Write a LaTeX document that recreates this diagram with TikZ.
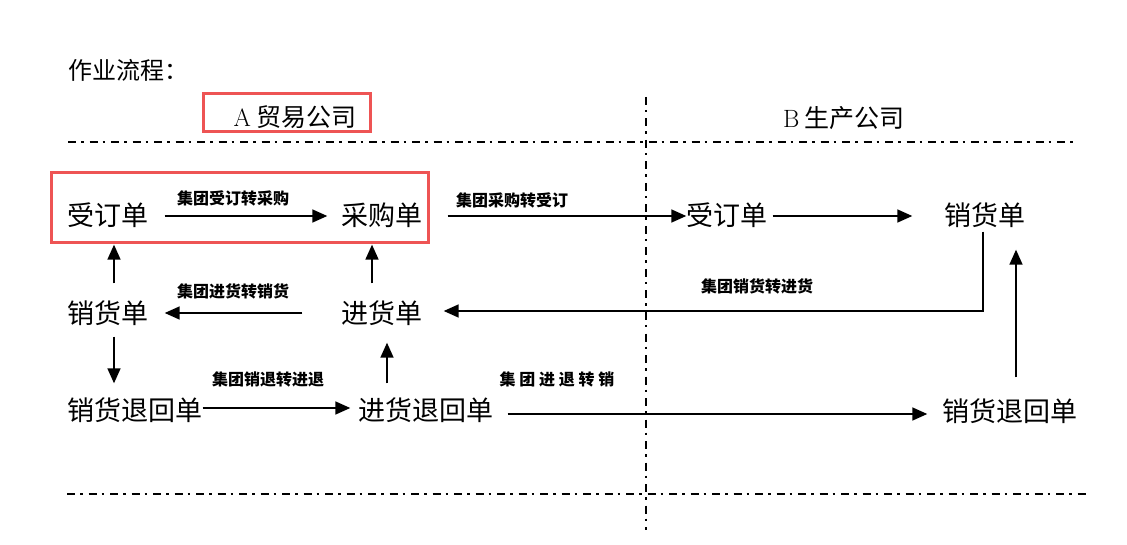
\documentclass[tikz,border=0pt]{standalone}
\usepackage{fontspec}
\newfontfamily\cjk{Noto Sans CJK SC}
\usetikzlibrary{arrows.meta}
\definecolor{redc}{RGB}{238,84,84}
\tikzset{
  main/.style={font=\cjk\fontsize{27}{30}\selectfont, inner sep=0pt},
  head/.style={font=\cjk\fontsize{25}{28}\selectfont, inner sep=0pt},
  lbl/.style={font=\cjk\bfseries\fontsize{16}{18}\selectfont, inner sep=0pt},
  arr/.style={line width=1.6pt, -{Triangle[length=15pt,width=13pt]}},
  dd/.style={line width=1.3pt, dash pattern=on 8pt off 5pt on 2.5pt off 6pt},
  redbox/.style={draw=redc, line width=3pt}
}
\begin{document}
\begin{tikzpicture}[x=1pt,y=-1pt]
\useasboundingbox (0,0) rectangle (1127,545);
% title and headers
\node[head, anchor=west, font=\cjk\fontsize{24}{28}\selectfont] (ttl) at (68,70) {作业流程：};
\draw[redbox] (203,94) rectangle (370,132);
\node[head] (ha) at (295,117) {{\rmfamily A} 贸易公司};
\node[head] (hb) at (844,118) {{\rmfamily B} 生产公司};
% dash-dot lines
\draw[dd] (68,142) -- (1073,142);
\draw[dd] (67,494) -- (1088,494);
\draw[dd] (646,97) -- (646,530);
% red box around first row
\draw[redbox] (51,173) rectangle (428,243);
% nodes
\node[main] (sd)  at (108,215) {受订单};
\node[main] (cg)  at (382,215) {采购单};
\node[main] (xh)  at (108,313) {销货单};
\node[main] (jh)  at (382,313) {进货单};
\node[main] (xt)  at (135,410) {销货退回单};
\node[main] (jt)  at (426,410) {进货退回单};
\node[main] (bsd) at (727,215) {受订单};
\node[main] (bxh) at (985,215) {销货单};
\node[main] (bxt) at (1010,411) {销货退回单};
% labels
\node[lbl] (l1) at (233,198) {集团受订转采购};
\node[lbl] (l2) at (512,200) {集团采购转受订};
\node[lbl] (l3) at (757,286) {集团销货转进货};
\node[lbl] (l4) at (233,291) {集团进货转销货};
\node[lbl] (l5) at (268,379) {集团销退转进退};
\node[lbl] (l6) at (557,379) {集\hspace{3.8pt}团\hspace{3.8pt}进\hspace{3.8pt}退\hspace{3.8pt}转\hspace{3.8pt}销};
% connectors
\draw[arr] ([xshift=16pt,yshift=-1pt]sd.east) -- ([xshift=-14pt,yshift=-1pt]cg.west);
\draw[arr] ([xshift=25pt,yshift=-1pt]cg.east) -- ([yshift=-1pt]bsd.west);
\draw[arr] ([xshift=5pt,yshift=-1pt]bsd.east) -- ([xshift=-32pt,yshift=-1pt]bxh.west);
\draw[arr] ([xshift=-2pt,yshift=-4pt]bxh.south) |- ([xshift=21pt,yshift=2pt]jh.east);
\draw[arr] ([xshift=-39pt]jh.west) -- ([xshift=16pt]xh.east);
\draw[arr] ([xshift=6pt,yshift=17pt]xh.north) -- ([xshift=6pt,yshift=-17pt]sd.south);
\draw[arr] ([xshift=-10pt,yshift=17pt]jh.north) -- ([xshift=-10pt,yshift=-17pt]cg.south);
\draw[arr] ([xshift=6pt,yshift=-11pt]xh.south) -- ([xshift=6pt,yshift=14pt]xh.south |- xt.north);
\draw[arr] ([yshift=2pt]xt.east) -- ([xshift=-8pt,yshift=2pt]jt.west);
\draw[arr] ([xshift=5pt,yshift=14pt]jh.south |- jt.north) -- ([xshift=5pt,yshift=-17pt]jh.south);
\draw[arr] ([xshift=14pt,yshift=-4pt]jt.east) -- ([xshift=-15pt,yshift=-3pt]bxt.west);
\draw[arr] ([xshift=6pt,yshift=21pt]bxt.north) -- ([xshift=6pt,yshift=-22pt]bxt.north |- bxh.south);
\end{tikzpicture}
\end{document}
